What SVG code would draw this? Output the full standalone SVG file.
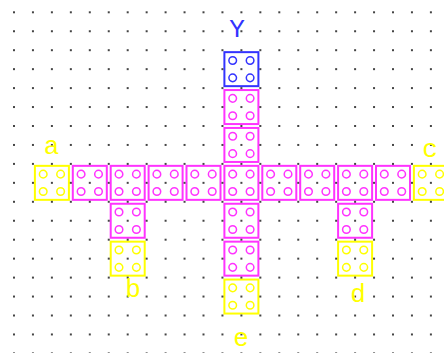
<svg xmlns="http://www.w3.org/2000/svg" xmlns:xlink="http://www.w3.org/1999/xlink" width="444" height="353" viewBox="0 0 444 353">
<style>
.cell rect{fill:none;stroke-width:2}
.cell use{fill:none;stroke-width:1.5}
.mag{stroke:#ff33ff}
.yel{stroke:#ffff00}
.blu{stroke:#3333ff}
.lbl{font-family:"Liberation Mono","DejaVu Sans Mono",monospace;font-size:26px;text-anchor:middle}
</style>
<defs>
<g id="holes"><circle cx="-8.7" cy="-8.7" r="3.8"/><circle cx="8.7" cy="-8.7" r="3.8"/><circle cx="-8.7" cy="8.7" r="3.8"/><circle cx="8.7" cy="8.7" r="3.8"/></g>
<pattern id="grid" patternUnits="userSpaceOnUse" x="13" y="11.3" width="18.95" height="18.95"><rect x="0" y="0" width="2" height="2" fill="#444"/></pattern>
</defs>
<rect width="444" height="353" fill="#fff"/>
<g id="connectors"/>
<g id="cell-a" class="cell yel" transform="translate(51.9,182.85)"><rect x="-17" y="-17" width="34" height="34"/><use xlink:href="#holes"/></g>
<g id="cell-r4" class="cell mag" transform="translate(89.8,182.85)"><rect x="-17" y="-17" width="34" height="34"/><use xlink:href="#holes"/></g>
<g id="cell-r6" class="cell mag" transform="translate(127.7,182.85)"><rect x="-17" y="-17" width="34" height="34"/><use xlink:href="#holes"/></g>
<g id="cell-r8" class="cell mag" transform="translate(165.6,182.85)"><rect x="-17" y="-17" width="34" height="34"/><use xlink:href="#holes"/></g>
<g id="cell-r10" class="cell mag" transform="translate(203.5,182.85)"><rect x="-17" y="-17" width="34" height="34"/><use xlink:href="#holes"/></g>
<g id="cell-center" class="cell mag" transform="translate(241.4,182.85)"><rect x="-17" y="-17" width="34" height="34"/><use xlink:href="#holes"/></g>
<g id="cell-r14" class="cell mag" transform="translate(279.3,182.85)"><rect x="-17" y="-17" width="34" height="34"/><use xlink:href="#holes"/></g>
<g id="cell-r16" class="cell mag" transform="translate(317.2,182.85)"><rect x="-17" y="-17" width="34" height="34"/><use xlink:href="#holes"/></g>
<g id="cell-r18" class="cell mag" transform="translate(355.1,182.85)"><rect x="-17" y="-17" width="34" height="34"/><use xlink:href="#holes"/></g>
<g id="cell-r20" class="cell mag" transform="translate(393,182.85)"><rect x="-17" y="-17" width="34" height="34"/><use xlink:href="#holes"/></g>
<g id="cell-c" class="cell yel" transform="translate(430.9,182.85)"><rect x="-17" y="-17" width="34" height="34"/><use xlink:href="#holes"/></g>
<g id="cell-Y" class="cell blu" transform="translate(241.4,69.15)"><rect x="-17" y="-17" width="34" height="34"/><use xlink:href="#holes"/></g>
<g id="cell-v5" class="cell mag" transform="translate(241.4,107.05)"><rect x="-17" y="-17" width="34" height="34"/><use xlink:href="#holes"/></g>
<g id="cell-v7" class="cell mag" transform="translate(241.4,144.95)"><rect x="-17" y="-17" width="34" height="34"/><use xlink:href="#holes"/></g>
<g id="cell-v11" class="cell mag" transform="translate(241.4,220.75)"><rect x="-17" y="-17" width="34" height="34"/><use xlink:href="#holes"/></g>
<g id="cell-v13" class="cell mag" transform="translate(241.4,258.65)"><rect x="-17" y="-17" width="34" height="34"/><use xlink:href="#holes"/></g>
<g id="cell-e" class="cell yel" transform="translate(241.4,296.55)"><rect x="-17" y="-17" width="34" height="34"/><use xlink:href="#holes"/></g>
<g id="cell-b1" class="cell mag" transform="translate(127.7,220.75)"><rect x="-17" y="-17" width="34" height="34"/><use xlink:href="#holes"/></g>
<g id="cell-b" class="cell yel" transform="translate(127.7,258.65)"><rect x="-17" y="-17" width="34" height="34"/><use xlink:href="#holes"/></g>
<g id="cell-d1" class="cell mag" transform="translate(355.1,220.75)"><rect x="-17" y="-17" width="34" height="34"/><use xlink:href="#holes"/></g>
<g id="cell-d" class="cell yel" transform="translate(355.1,258.65)"><rect x="-17" y="-17" width="34" height="34"/><use xlink:href="#holes"/></g>
<rect id="dots" x="0" y="0" width="444" height="353" fill="url(#grid)"/>
<g id="labels">
<text class="lbl" x="237" y="37" fill="#3333ff">Y</text>
<text class="lbl" x="51.5" y="154" fill="#ffff00">a</text>
<text class="lbl" x="430" y="157" fill="#ffff00">c</text>
<text class="lbl" x="133" y="297" fill="#ffff00">b</text>
<text class="lbl" x="358" y="302" fill="#ffff00">d</text>
<text class="lbl" x="241" y="346" fill="#ffff00">e</text>
</g>
</svg>
